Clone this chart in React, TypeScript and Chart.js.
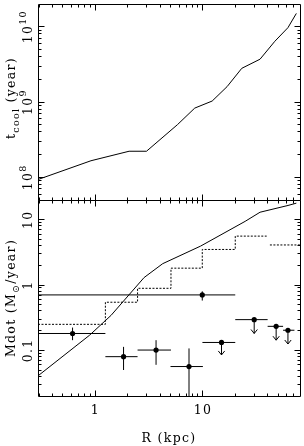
import React, { useEffect, useRef } from 'react';
import { Chart, registerables } from 'chart.js';
Chart.register(...registerables);

// axis ranges
const X_MIN = 0.293;
const X_MAX = 80;
const TOP_MIN = 5e7;
const TOP_MAX = 2e10;
const BOT_MIN = 0.02;
const BOT_MAX = 20;

// top panel: cooling time profile
const tcoolR = [0.296, 0.911, 2.06, 2.99, 5.8, 8.4, 12.2, 16.8, 23, 34, 46.7, 61.8, 74];
const tcoolYr = [9.4e7, 1.66e8, 2.22e8, 2.22e8, 5.0e8, 8.3e8, 1.03e9, 1.6e9, 2.8e9, 3.7e9, 6.4e9, 9.7e9, 1.5e10];

// bottom panel: model mass deposition (solid)
const mdotModelR = [0.296, 0.886, 1.4, 2.84, 4.23, 9.52, 24.7, 34, 61.9, 74];
const mdotModelVal = [0.0412, 0.171, 0.343, 1.3, 2.12, 3.94, 9.42, 13.0, 16.5, 17.9];

// bottom panel: dotted steps
const stepEdges = [0.293, 1.24, 2.47, 5.05, 9.87, 20, 39.2];
const stepVals = [0.25, 0.545, 0.89, 1.81, 3.5, 5.6];
const tailR = [42, 80];
const tailVal = [4.1, 4.1];

// bottom panel: measurements with error bars
const obsR = [0.614, 1.83, 3.67, 7.43, 9.87];
const obsVal = [0.181, 0.08, 0.101, 0.0565, 0.705];
const obsRLo = [0.2, 1.24, 2.47, 5.0, 0.2];
const obsRHi = [1.24, 2.47, 5.05, 10, 20];
const obsValLo = [0.143, 0.05, 0.06, 0.01, 0.578];
const obsValHi = [0.223, 0.113, 0.143, 0.107, 0.8];

// bottom panel: upper limits
const limR = [14.9, 30, 48, 61.8];
const limVal = [0.132, 0.295, 0.233, 0.203];
const limRLo = [9.9, 20, 40, 55.7];
const limRHi = [20, 40, 55.7, 71];
const limArrowTo = [0.085, 0.181, 0.143, 0.125];

// tick labels
const xTickVals = [1, 10];
const xTickLabels = ['1', '10'];
const topTickVals = [1e8, 1e9, 1e10];
const topTickExps = ['8', '9', '10'];
const botTickVals = [0.1, 1, 10];
const botTickLabels = ['0.1', '1', '10'];

const FONT = '"DejaVu Serif", serif';

function setFont(ctx: CanvasRenderingContext2D, size: number) {
  ctx.font = `${size}px ${FONT}`;
  try { (ctx as any).letterSpacing = '1.3px'; } catch (e) {}
}

type Piece = { t: string; size: number; dy: number };

function drawPieces(ctx: CanvasRenderingContext2D, pieces: Piece[], cx: number, cy: number, rotate: boolean) {
  ctx.save();
  ctx.translate(cx, cy);
  if (rotate) ctx.rotate(-Math.PI / 2);
  ctx.textBaseline = 'alphabetic';
  ctx.textAlign = 'left';
  let total = 0;
  const widths: number[] = [];
  for (const p of pieces) {
    setFont(ctx, p.size);
    const w = ctx.measureText(p.t).width;
    widths.push(w);
    total += w;
  }
  let x = -total / 2;
  pieces.forEach((p, i) => {
    setFont(ctx, p.size);
    ctx.fillText(p.t, x, p.dy);
    x += widths[i];
  });
  ctx.restore();
}

function logTicks(min: number, max: number) {
  const out: { v: number; major: boolean }[] = [];
  for (let d = Math.floor(Math.log10(min)); d <= Math.ceil(Math.log10(max)); d++) {
    for (let m = 1; m <= 9; m++) {
      const v = m * Math.pow(10, d);
      if (v >= min * 1.0001 && v <= max / 1.0001) out.push({ v, major: m === 1 });
    }
  }
  return out;
}

const errorBarPlugin = {
  id: 'errbars',
  afterDatasetsDraw(chart: any) {
    const ctx: CanvasRenderingContext2D = chart.ctx;
    const xs = chart.scales.x;
    const yB = chart.scales.yB;
    const ca = chart.chartArea;
    ctx.save();
    ctx.beginPath();
    ctx.rect(ca.left, yB.top, ca.right - ca.left, yB.bottom - yB.top);
    ctx.clip();
    ctx.strokeStyle = '#000';
    ctx.lineWidth = 1;
    ctx.beginPath();
    for (let i = 0; i < obsR.length; i++) {
      const y = yB.getPixelForValue(obsVal[i]);
      const x = xs.getPixelForValue(obsR[i]);
      ctx.moveTo(xs.getPixelForValue(obsRLo[i]), y);
      ctx.lineTo(xs.getPixelForValue(obsRHi[i]), y);
      ctx.moveTo(x, yB.getPixelForValue(obsValLo[i]));
      ctx.lineTo(x, yB.getPixelForValue(obsValHi[i]));
    }
    for (let i = 0; i < limR.length; i++) {
      const y = yB.getPixelForValue(limVal[i]);
      const x = xs.getPixelForValue(limR[i]);
      const ya = yB.getPixelForValue(limArrowTo[i]);
      ctx.moveTo(xs.getPixelForValue(limRLo[i]), y);
      ctx.lineTo(xs.getPixelForValue(limRHi[i]), y);
      ctx.moveTo(x, y);
      ctx.lineTo(x, ya);
      ctx.moveTo(x - 3.2, ya - 4);
      ctx.lineTo(x, ya);
      ctx.lineTo(x + 3.2, ya - 4);
    }
    ctx.stroke();
    ctx.restore();
  },
};

const framePlugin = {
  id: 'frame',
  afterDraw(chart: any) {
    const ctx: CanvasRenderingContext2D = chart.ctx;
    const xs = chart.scales.x;
    const yT = chart.scales.yT;
    const yB = chart.scales.yB;
    const ca = chart.chartArea;
    const px = (v: number) => Math.floor(v) + 0.5;
    const L = px(ca.left);
    const R = px(ca.right);
    ctx.save();
    ctx.strokeStyle = '#000';
    ctx.lineWidth = 1;
    ctx.beginPath();
    for (const sc of [yT, yB]) {
      const T = px(sc.top);
      const B = px(sc.bottom);
      ctx.rect(L, T, R - L, B - T);
      // x ticks
      for (const t of logTicks(X_MIN, X_MAX)) {
        const x = px(xs.getPixelForValue(t.v));
        const len = t.major ? 6 : 3;
        ctx.moveTo(x, T);
        ctx.lineTo(x, T + len);
        ctx.moveTo(x, B);
        ctx.lineTo(x, B - len);
      }
      const lim = sc === yT ? [TOP_MIN, TOP_MAX] : [BOT_MIN, BOT_MAX];
      for (const t of logTicks(lim[0], lim[1])) {
        const y = px(sc.getPixelForValue(t.v));
        const len = t.major ? 6 : 3;
        ctx.moveTo(L, y);
        ctx.lineTo(L + len, y);
        ctx.moveTo(R, y);
        ctx.lineTo(R - len, y);
      }
    }
    ctx.stroke();

    ctx.fillStyle = '#000';
    // x tick labels
    xTickVals.forEach((v, i) => {
      drawPieces(ctx, [{ t: xTickLabels[i], size: 12.5, dy: 0 }], xs.getPixelForValue(v), 414, false);
    });
    drawPieces(ctx, [{ t: 'R (kpc)', size: 12.5, dy: 0 }], (ca.left + ca.right) / 2, 442, false);

    // top y tick labels
    topTickVals.forEach((v, i) => {
      drawPieces(ctx, [
        { t: '10', size: 12.5, dy: 0 },
        { t: topTickExps[i], size: 9.5, dy: -6 },
      ], 32, yT.getPixelForValue(v), true);
    });
    // bottom y tick labels
    botTickVals.forEach((v, i) => {
      drawPieces(ctx, [{ t: botTickLabels[i], size: 12.5, dy: 0 }], 32, yB.getPixelForValue(v), true);
    });

    // axis titles
    drawPieces(ctx, [
      { t: 't', size: 12.5, dy: 0 },
      { t: 'cool', size: 9.5, dy: 4 },
      { t: ' (year)', size: 12.5, dy: 0 },
    ], 14.5, (yT.top + yT.bottom) / 2 - 4, true);
    drawPieces(ctx, [
      { t: 'Mdot (M', size: 12.5, dy: 0 },
      { t: '\u2299', size: 9.5, dy: 4 },
      { t: '/year)', size: 12.5, dy: 0 },
    ], 14.5, (yB.top + yB.bottom) / 2, true);
    ctx.restore();
  },
};

export default function App() {
  const ref = useRef<HTMLCanvasElement>(null);
  useEffect(() => {
    const hidden = {
      ticks: { display: false },
      grid: { display: false, drawTicks: false },
      border: { display: false },
      title: { display: false },
    };
    const stepData = stepEdges.map((e, i) => ({ x: e, y: stepVals[Math.min(i, stepVals.length - 1)] }));
    const chart = new Chart(ref.current as HTMLCanvasElement, {
      type: 'scatter',
      data: {
        datasets: [
          {
            data: tcoolR.map((r, i) => ({ x: r, y: tcoolYr[i] })),
            yAxisID: 'yT',
            showLine: true,
            borderColor: '#000',
            borderWidth: 1,
            pointRadius: 0,
          },
          {
            data: mdotModelR.map((r, i) => ({ x: r, y: mdotModelVal[i] })),
            yAxisID: 'yB',
            showLine: true,
            borderColor: '#000',
            borderWidth: 1,
            pointRadius: 0,
          },
          {
            data: stepData,
            yAxisID: 'yB',
            showLine: true,
            stepped: true,
            borderColor: '#000',
            borderWidth: 1,
            borderDash: [2, 1.5],
            pointRadius: 0,
          },
          {
            data: tailR.map((r, i) => ({ x: r, y: tailVal[i] })),
            yAxisID: 'yB',
            showLine: true,
            borderColor: '#000',
            borderWidth: 1,
            borderDash: [2, 1.5],
            pointRadius: 0,
          },
          {
            data: [...obsR.map((r, i) => ({ x: r, y: obsVal[i] })), ...limR.map((r, i) => ({ x: r, y: limVal[i] }))],
            yAxisID: 'yB',
            showLine: false,
            pointRadius: 2.6,
            pointBackgroundColor: '#000',
            pointBorderWidth: 0,
          },
        ] as any,
      },
      options: {
        animation: false,
        responsive: false,
        devicePixelRatio: 1,
        layout: { padding: { left: 38, right: 2.3, top: 0.5, bottom: 50 } },
        plugins: { legend: { display: false }, tooltip: { enabled: false } },
        scales: {
          x: { type: 'logarithmic', min: X_MIN, max: X_MAX, ...hidden } as any,
          yB: { type: 'logarithmic', min: BOT_MIN, max: BOT_MAX, position: 'left', stack: 'panels', stackWeight: 1, ...hidden } as any,
          yT: { type: 'logarithmic', min: TOP_MIN, max: TOP_MAX, position: 'left', stack: 'panels', stackWeight: 1, ...hidden } as any,
        },
      },
      plugins: [errorBarPlugin, framePlugin],
    });
    return () => chart.destroy();
  }, []);
  return (
    <div style={{ position: 'absolute', left: 0, top: 0, width: 304, height: 446, background: '#fff' }}>
      <canvas ref={ref} width={304} height={446} style={{ display: 'block', width: 304, height: 446 }} />
    </div>
  );
}
